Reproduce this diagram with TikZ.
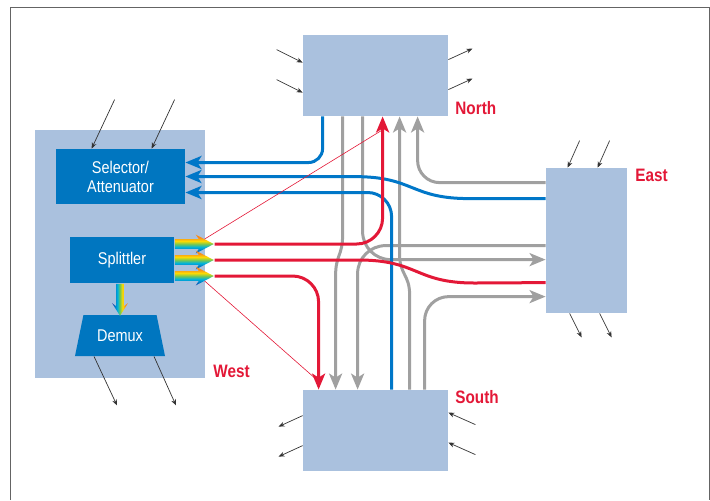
\documentclass[tikz,border=0pt]{standalone}
\usepackage{fontspec}
\setmainfont{Liberation Sans}
\newfontfamily\narrowfont[FakeStretch=0.85]{Liberation Sans}
\usetikzlibrary{arrows.meta, positioning, shapes.geometric, shapes.arrows, calc}

\definecolor{paleblue}{RGB}{170,193,222}
\definecolor{boxblue}{RGB}{0,118,192}
\definecolor{lineblue}{RGB}{0,119,200}
\definecolor{linered}{RGB}{227,24,55}
\definecolor{linegray}{RGB}{160,160,160}
\definecolor{framegray}{RGB}{100,100,100}
\definecolor{specV}{RGB}{60,70,170}
\definecolor{specB}{RGB}{0,120,200}
\definecolor{specC}{RGB}{0,180,220}
\definecolor{specG}{RGB}{120,200,80}
\definecolor{specY}{RGB}{255,220,0}
\definecolor{specO}{RGB}{245,140,30}

\pgfdeclareverticalshading{spectrum}{100bp}{color(0bp)=(specV); color(25bp)=(specV); color(33bp)=(specB); color(42bp)=(specC); color(50bp)=(specG); color(58bp)=(specY); color(67bp)=(specO); color(100bp)=(specO)}

\begin{document}
\begin{tikzpicture}[
    x=0.5pt, y=-0.5pt,
    zone/.style={fill=paleblue, inner sep=0},
    unit/.style={fill=boxblue, text=white, font=\narrowfont\fontsize{8.5}{9.5}\selectfont, align=center, inner sep=0},
    tag/.style={text=linered, font=\narrowfont\bfseries\fontsize{9}{10}\selectfont, inner sep=0, anchor=west},
    io/.style={-{Stealth[length=3pt, width=2.4pt]}, line width=0.35pt, draw=black!80},
    graypath/.style={draw=linegray, line width=1.5pt},
    bluepath/.style={draw=lineblue, line width=1.5pt},
    redpath/.style={draw=linered, line width=1.5pt},
    hd/.style={-{Stealth[length=8pt, width=6.5pt, inset=2pt]}},
    rainbow/.style={single arrow, shading=spectrum, inner xsep=0pt, inner ysep=2.25pt, minimum width=0pt, minimum height=19.5pt, single arrow head extend=2.25pt, single arrow tip angle=55, single arrow head indent=1.5pt},
]
\useasboundingbox (0,0) rectangle (710,500);

% frame
\draw[framegray, line width=0.5pt] (10,500) -- (10,7) -- (709,7) -- (709,500);

% West node
\node[zone, minimum width=85pt, minimum height=124pt] (west) at (120,254) {};
\node[unit, minimum width=64.5pt, minimum height=27.5pt] (sel) at (120.5,176.5) {Selector/\\Attenuator};
\node[unit, minimum width=52pt, minimum height=23pt] (spl) at (122,260) {Splittler};
\node[unit, trapezium, trapezium angle=66, trapezium stretches=true, minimum width=45pt, minimum height=20.5pt] (demux) at (120,335.5) {Demux};

% splitter outputs
\node[rainbow, anchor=tail] (o1) at ($(spl.east)+(0,-16)$) {};
\node[rainbow, anchor=tail] (o2) at (spl.east) {};
\node[rainbow, anchor=tail] (o3) at ($(spl.east)+(0,16)$) {};
\node[rainbow, rotate=-90, shading angle=-90, anchor=tail, minimum height=16pt, inner ysep=1.75pt, single arrow head extend=2pt, single arrow tip angle=64] (dn) at ($(spl.south)+(-2,0)$) {};

% other nodes
\node[zone, minimum width=72.5pt, minimum height=40.5pt] (north) at (375.5,75.5) {};
\node[zone, minimum width=40.5pt, minimum height=72.5pt] (east) at (586.5,240.5) {};
\node[zone, minimum width=72.5pt, minimum height=40.5pt] (south) at (375.5,430.5) {};

\node[tag] (lnorth) at (455,108) {North};
\node[tag] (least) at (635,175) {East};
\node[tag] (lsouth) at (455,397) {South};
\node[tag] (lwest) at (213,371) {West};

% add/drop ports
\draw[io] ($(north.north west)+(-26,15)$) -- ($(north.north west)+(0,28)$);
\draw[io] ($(north.north west)+(-26,45)$) -- ($(north.north west)+(0,58)$);
\draw[io] ($(north.north east)+(0,25)$) -- ++(24,-11);
\draw[io] ($(north.north east)+(0,55)$) -- ++(24,-11);
\draw[io] ($(east.north west)+(34,-27)$) -- ($(east.north west)+(22,0)$);
\draw[io] ($(east.north west)+(64,-27)$) -- ($(east.north west)+(52,0)$);
\draw[io] ($(east.south west)+(24,0)$) -- ++(12,24);
\draw[io] ($(east.south west)+(54,0)$) -- ++(12,24);
\draw[io] ($(south.north west)+(0,26)$) -- ++(-24,11);
\draw[io] ($(south.north west)+(0,56)$) -- ++(-24,11);
\draw[io] ($(south.north east)+(27,35)$) -- ($(south.north east)+(0,23)$);
\draw[io] ($(south.north east)+(27,65)$) -- ($(south.north east)+(0,53)$);
\draw[io] ($(sel.north west)+(59,-49)$) -- ($(sel.north west)+(36,0)$);
\draw[io] ($(sel.north west)+(119,-49)$) -- ($(sel.north west)+(96,0)$);
\draw[io] ($(demux.south)+(-26,0)$) -- ++(23,49);
\draw[io] ($(demux.south)+(34,0)$) -- ++(22,49);

% pass-through (gray)
\draw[graypath, hd] ($(north.south west)+(40,0)$) -- ++(0,119) .. controls +(0,20) and +(0,-20) .. ++(-7,40) -- ($(south.north west)+(33,0)$);
\draw[graypath, hd, rounded corners=14pt] ($(north.south west)+(60,0)$) |- ($(east.north west)+(0,92)$);
\draw[graypath, hd, rounded corners=14pt] ($(east.north west)+(0,78)$) -| ($(south.north west)+(55,0)$);
\draw[graypath, hd] ($(south.north west)+(107,0)$) -- ++(0,-95) .. controls +(0,-20) and +(0,20) .. ++(-10,-40) -- ($(north.south west)+(97,0)$);
\draw[graypath, hd, rounded corners=11pt] ($(east.north west)+(0,15)$) -| ($(north.south west)+(115,0)$);
\draw[graypath, hd, rounded corners=12pt] ($(south.north west)+(122,0)$) |- ($(east.north west)+(0,129)$);

% dropped (blue)
\draw[bluepath, hd, rounded corners=7pt] ($(north.south west)+(20,0)$) |- ($(sel.east)+(0,-14)$);
\draw[bluepath, hd] ($(east.north west)+(0,31)$) -- ++(-76,0) .. controls +(-60,0) and +(60,0) .. ++(-115,-22) -- (sel.east);
\draw[bluepath, hd, rounded corners=12pt] ($(south.north west)+(89,0)$) |- ($(sel.east)+(0,16)$);

% added (red)
\draw[redpath, hd, rounded corners=13pt] (o1.tip) -| ($(north.south west)+(80,0)$);
\draw[redpath] (o2.tip) -- ++(144,0) .. controls +(60,0) and +(-60,0) .. ++(116,23) -- ($(east.north west)+(0,115)$);
\draw[redpath, hd, rounded corners=13pt] (o3.tip) -| ($(south.north west)+(16,0)$);
\draw[linered, line width=0.3pt] ($(o1.tip)+(-10,-5)$) -- ($(north.south west)+(79,14)$);
\draw[linered, line width=0.3pt] ($(o3.tip)+(-10,5)$) -- ($(south.north west)+(14,-10)$);

\end{tikzpicture}
\end{document}
